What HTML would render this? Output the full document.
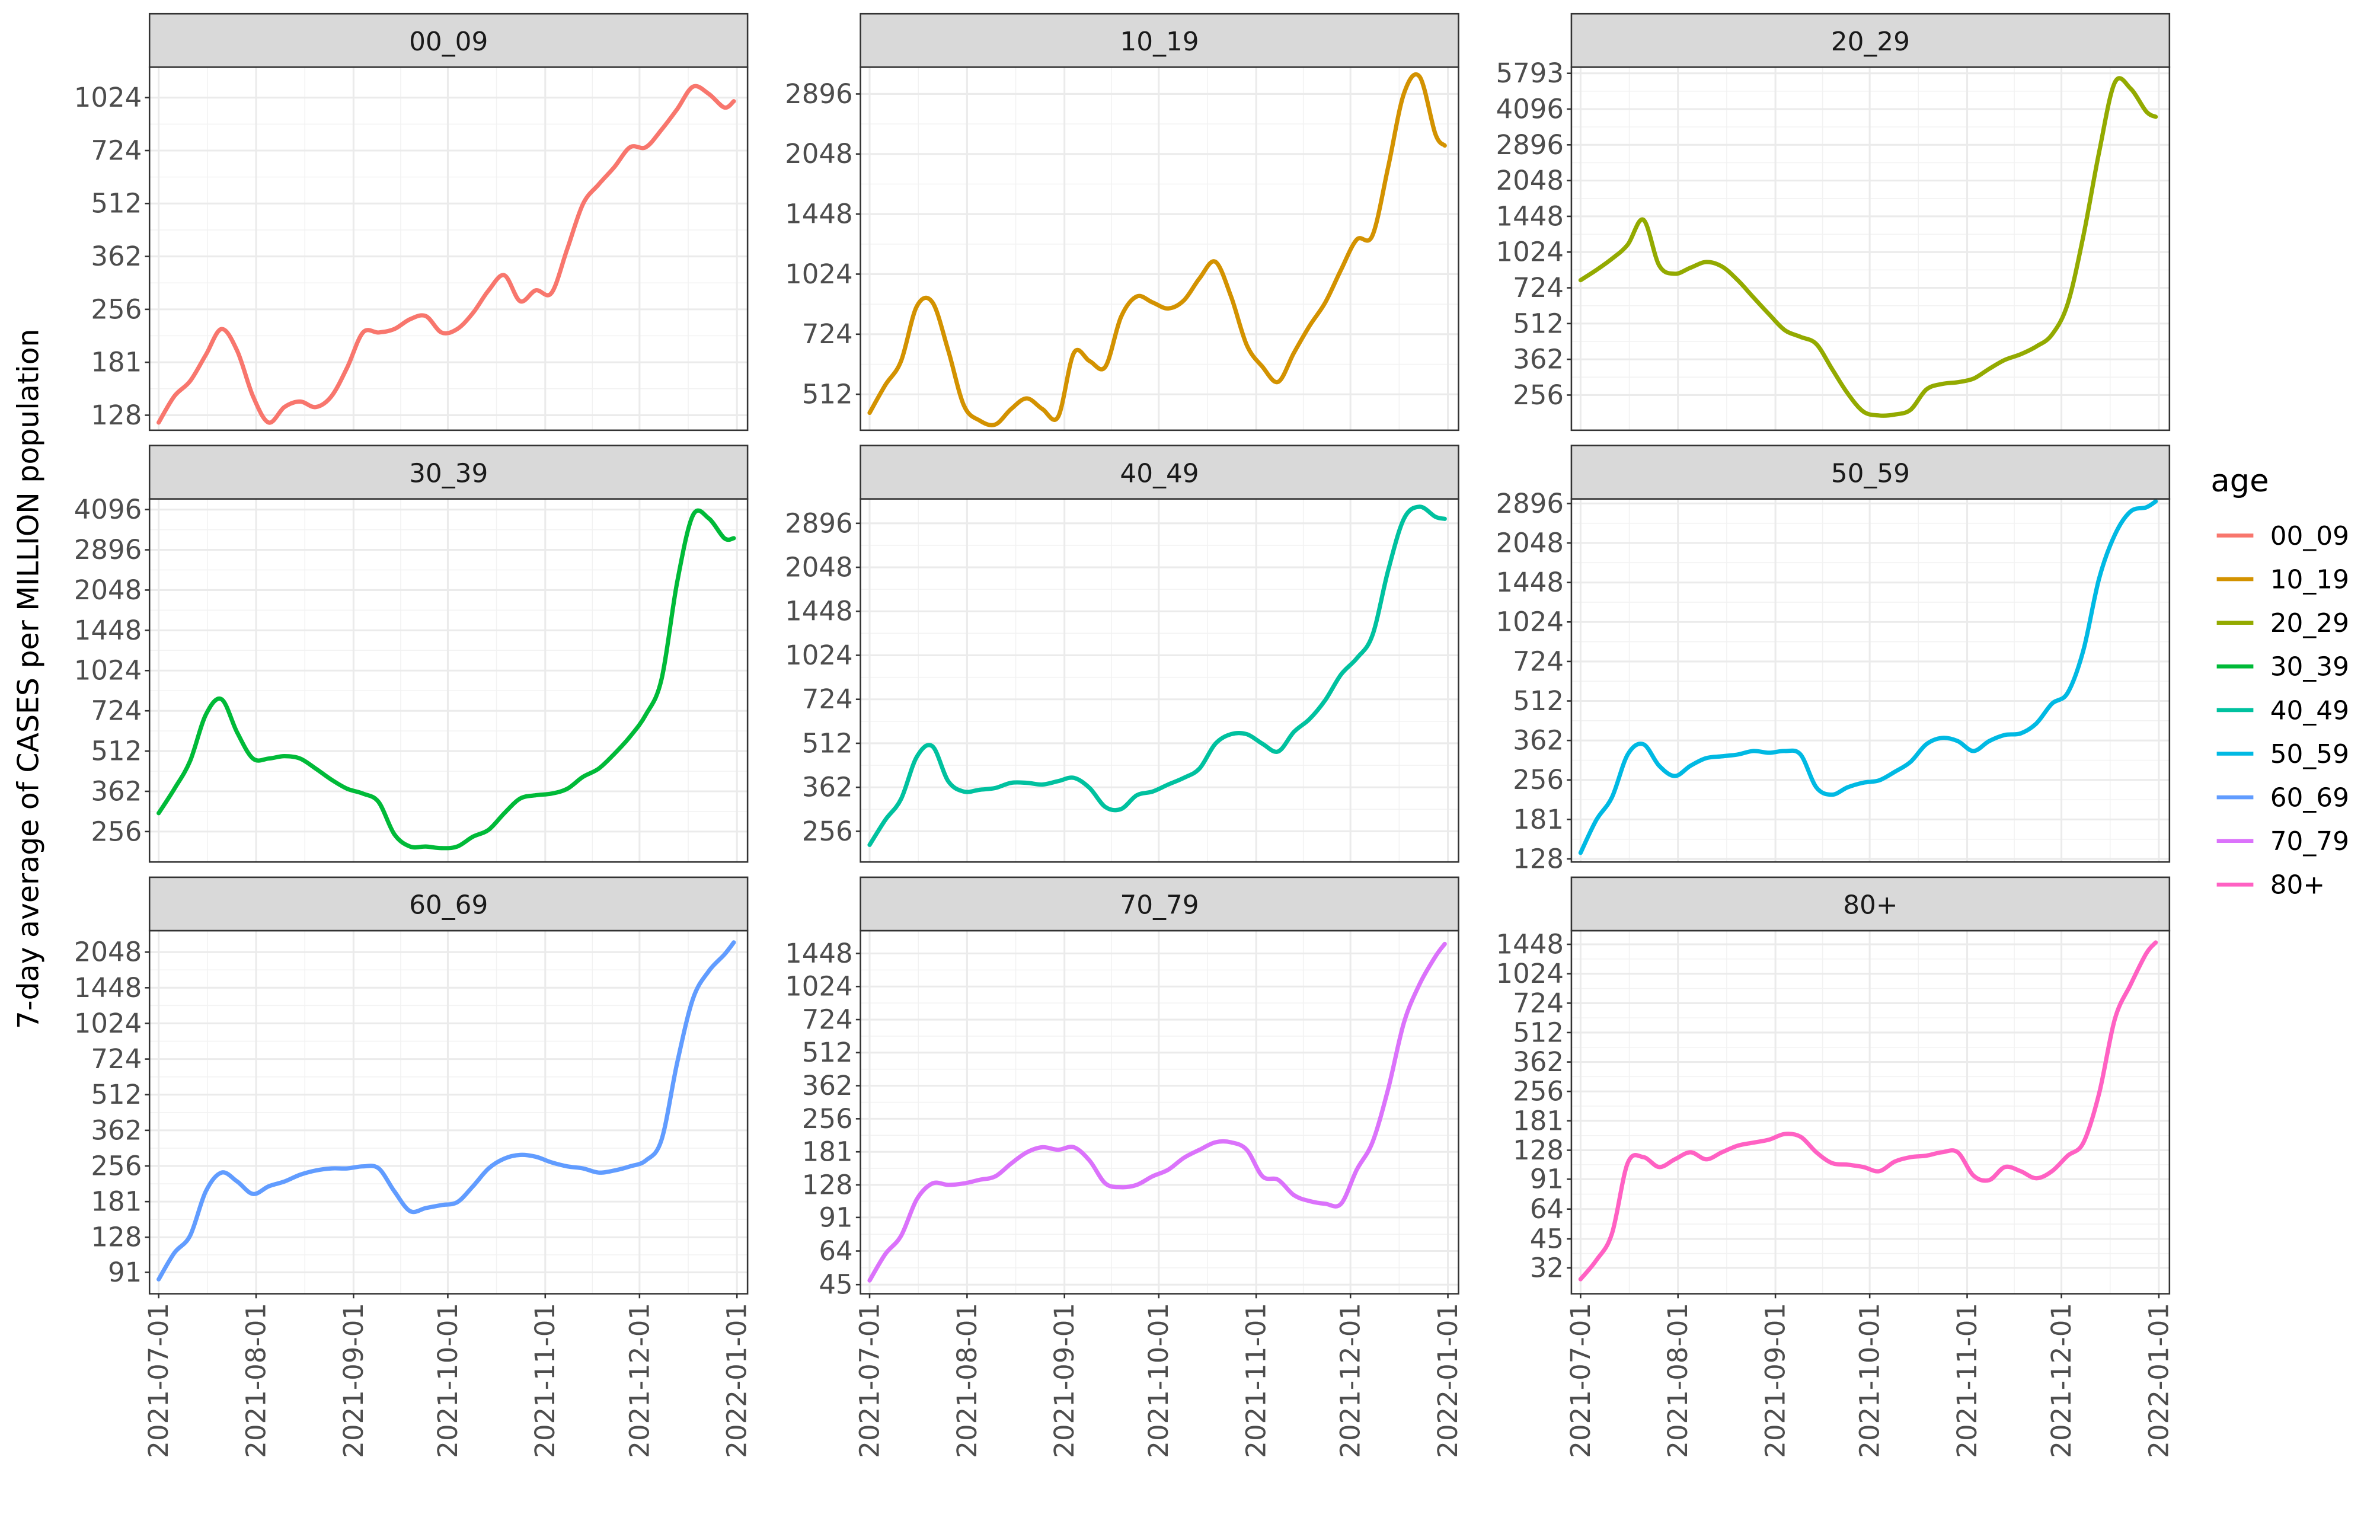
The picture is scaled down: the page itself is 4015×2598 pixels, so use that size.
<!DOCTYPE html>
<html><head><meta charset="utf-8">
<style>
html,body{margin:0;padding:0;background:#fff;}
svg{display:block;font-family:"DejaVu Sans","Liberation Sans",sans-serif;}
</style></head>
<body>
<svg id="chart" width="4015" height="2598" viewBox="0 0 1560 1009.4" xmlns="http://www.w3.org/2000/svg">
<rect x="0" y="0" width="1560" height="1009.4" fill="#fff"/>
<text transform="translate(25,445) rotate(-90)" text-anchor="middle" font-size="19" fill="#000">7-day average of CASES per MILLION population</text>
<g id="panels"></g>
<g id="legend">
<text x="1449" y="322" font-size="20.5" fill="#000">age</text>
</g>
</svg>
<script>
const days = [0,5,10,15,20,25,30,35,40,45,50,55,60,65,70,75,80,85,90,95,100,105,110,115,120,125,130,135,140,145,150,155,160,165,170,175,180,183];
const ages = ["00_09","10_19","20_29","30_39","40_49","50_59","60_69","70_79","80+"];
const colors = ["#F8766D","#D39200","#93AA00","#00BA38","#00C19F","#00B9E3","#619CFF","#DB72FB","#FF61C3"];
const vals00 = [122,145,160,190,225,195,145,122,135,140,135,145,175,220,220,225,240,245,220,225,250,290,320,270,290,285,380,510,580,650,740,740,830,950,1100,1050,960,1000];
const vals10 = [460,540,620,850,870,660,480,440,430,470,500,470,450,650,620,600,800,900,870,840,880,1000,1100,900,680,600,550,650,760,870,1050,1250,1280,1900,2900,3200,2300,2150];
const vals20 = [780,860,960,1100,1400,900,830,880,930,890,780,660,560,480,450,420,330,260,218,210,212,222,270,285,290,300,330,360,380,410,460,620,1200,2700,5300,5000,4000,3800];
const vals30 = [300,370,470,700,800,600,480,480,490,480,440,400,370,355,330,250,225,225,222,225,245,260,300,340,350,355,370,410,440,500,580,700,950,2200,3900,3800,3200,3200];
const vals40 = [230,280,330,460,500,380,350,355,360,375,375,370,380,390,360,310,305,340,350,370,390,420,510,550,550,510,480,560,620,720,880,1000,1200,2000,3000,3300,3050,3000];
const vals50 = [135,180,220,320,350,290,265,290,310,315,320,330,325,330,320,240,225,240,250,255,275,300,350,370,360,330,360,380,385,420,500,550,800,1500,2200,2700,2800,2950];
const vals60 = [85,110,130,200,240,220,195,210,220,235,245,250,250,255,250,200,165,170,175,180,210,250,275,285,280,265,255,250,240,245,255,270,330,700,1300,1700,2000,2250];
const vals70 = [47,62,75,110,130,128,130,135,140,160,180,190,185,190,165,130,125,128,140,150,170,185,200,200,185,140,135,115,108,105,105,150,200,350,700,1050,1400,1600];
const vals80 = [28,35,48,110,118,105,115,125,115,125,135,140,145,155,150,125,110,108,105,100,112,118,120,125,125,95,90,105,100,92,100,120,140,250,600,900,1300,1480];
const series = [vals00,vals10,vals20,vals30,vals40,vals50,vals60,vals70,vals80];
const ticks00 = [128,181,256,362,512,724,1024];
const ticks10 = [512,724,1024,1448,2048,2896];
const ticks20 = [256,362,512,724,1024,1448,2048,2896,4096,5793];
const ticks30 = [256,362,512,724,1024,1448,2048,2896,4096];
const ticks40 = [256,362,512,724,1024,1448,2048,2896];
const ticks50 = [128,181,256,362,512,724,1024,1448,2048,2896];
const ticks60 = [91,128,181,256,362,512,724,1024,1448,2048];
const ticks70 = [45,64,91,128,181,256,362,512,724,1024,1448];
const ticks80 = [32,45,64,91,128,181,256,362,512,724,1024,1448];
const tickSets = [ticks00,ticks10,ticks20,ticks30,ticks40,ticks50,ticks60,ticks70,ticks80];
const yDomains = [[116,1250],[416,3380],[182,6150],[197,4490],[201,3510],[124.6,3015],[73.9,2523],[40.9,1839],[23.6,1701]];
const monthDays = [0,31,62,92,123,153,184];
const monthLabels = ["2021-07-01","2021-08-01","2021-09-01","2021-10-01","2021-11-01","2021-12-01","2022-01-01"];

const NS = "http://www.w3.org/2000/svg";
function mk(tag, attrs, parent){ const e=document.createElementNS(NS,tag); for(const k in attrs) e.setAttribute(k,attrs[k]); parent.appendChild(e); return e; }
function smoothPath(p){
  let d='M'+p[0][0].toFixed(2)+','+p[0][1].toFixed(2);
  for(let i=0;i<p.length-1;i++){
    const p0=p[Math.max(0,i-1)],p1=p[i],p2=p[i+1],p3=p[Math.min(p.length-1,i+2)];
    const c1x=p1[0]+(p2[0]-p0[0])/6,c1y=p1[1]+(p2[1]-p0[1])/6;
    const c2x=p2[0]-(p3[0]-p1[0])/6,c2y=p2[1]-(p3[1]-p1[1])/6;
    d+=' C'+c1x.toFixed(2)+','+c1y.toFixed(2)+' '+c2x.toFixed(2)+','+c2y.toFixed(2)+' '+p2[0].toFixed(2)+','+p2[1].toFixed(2);
  }
  return d;
}
const panelsG = document.getElementById('panels');
const colX = [98,564,1030], rowY = [9,292,575];
const PW = 392, SH = 35, PH = 238;

ages.forEach((age,i)=>{
  const c=i%3, r=Math.floor(i/3);
  const L=colX[c], T=rowY[r]+SH, B=T+PH, R=L+PW;
  const g=mk('g',{},panelsG);
  
  
  const xs = d => L+6+2.06*d;
  const [lo,hi]=yDomains[i];
  const ys = v => B - (Math.log2(v)-Math.log2(lo))/(Math.log2(hi)-Math.log2(lo))*PH;
  mk('rect',{x:L,y:T,width:PW,height:PH,fill:'#fff'},g);
  for(let k=0;k<monthDays.length-1;k++){
    const m=(monthDays[k]+monthDays[k+1])/2;
    mk('line',{x1:xs(m),x2:xs(m),y1:T,y2:B,stroke:'#f2f2f2','stroke-width':0.6},g);
  }
  const tk=tickSets[i];
  for(let k=0;k<tk.length-1;k++){
    const m=Math.sqrt(tk[k]*tk[k+1]);
    mk('line',{x1:L,x2:R,y1:ys(m),y2:ys(m),stroke:'#f2f2f2','stroke-width':0.6},g);
  }
  monthDays.forEach(d=>mk('line',{x1:xs(d),x2:xs(d),y1:T,y2:B,stroke:'#ebebeb','stroke-width':1.2},g));
  tk.forEach(v=>{
    const y=ys(v);
    mk('line',{x1:L,x2:R,y1:y,y2:y,stroke:'#ebebeb','stroke-width':1.2},g);
    mk('line',{x1:L-3,x2:L,y1:y,y2:y,stroke:'#333','stroke-width':1},g);
    const t=mk('text',{x:L-5,y:y+6,'text-anchor':'end','font-size':17.5,fill:'#4d4d4d'},g);
    t.textContent=v;
    
    
  });
  const p=days.map((d,j)=>[xs(d),ys(series[i][j])]);
  const pl=mk('path',{d:smoothPath(p),fill:'none',stroke:colors[i],'stroke-width':2.8,'stroke-linejoin':'round','stroke-linecap':'round'},g);
  
  
  mk('rect',{x:L,y:T,width:PW,height:PH,fill:'none',stroke:'#333','stroke-width':1},g);
  const st=mk('rect',{x:L,y:rowY[r],width:PW,height:SH,fill:'#d9d9d9',stroke:'#333','stroke-width':1},g);
  
  
  const stt=mk('text',{x:L+PW/2,y:rowY[r]+24,'text-anchor':'middle','font-size':17,fill:'#1a1a1a'},g);
  stt.textContent=age;
  
  
  if(r===2){
    monthDays.forEach((d,k)=>{
      const x=xs(d);
      mk('line',{x1:x,x2:x,y1:B,y2:B+3,stroke:'#333','stroke-width':1},g);
      const t=mk('text',{transform:`translate(${x+6},${B+6}) rotate(-90)`,'text-anchor':'end','font-size':17.5,fill:'#4d4d4d'},g);
      t.textContent=monthLabels[k];
      
      
    });
  }
});
const lg=document.getElementById('legend');
ages.forEach((age,i)=>{
  const y=351+i*28.6;
  const e=mk('g',{},lg);
  
  
  mk('line',{x1:1453,x2:1477,y1:y,y2:y,stroke:colors[i],'stroke-width':2.6},e);
  const t=mk('text',{x:1488,y:y+6,'font-size':17,fill:'#000'},e);
  t.textContent=age;
});
</script>
</body></html>
